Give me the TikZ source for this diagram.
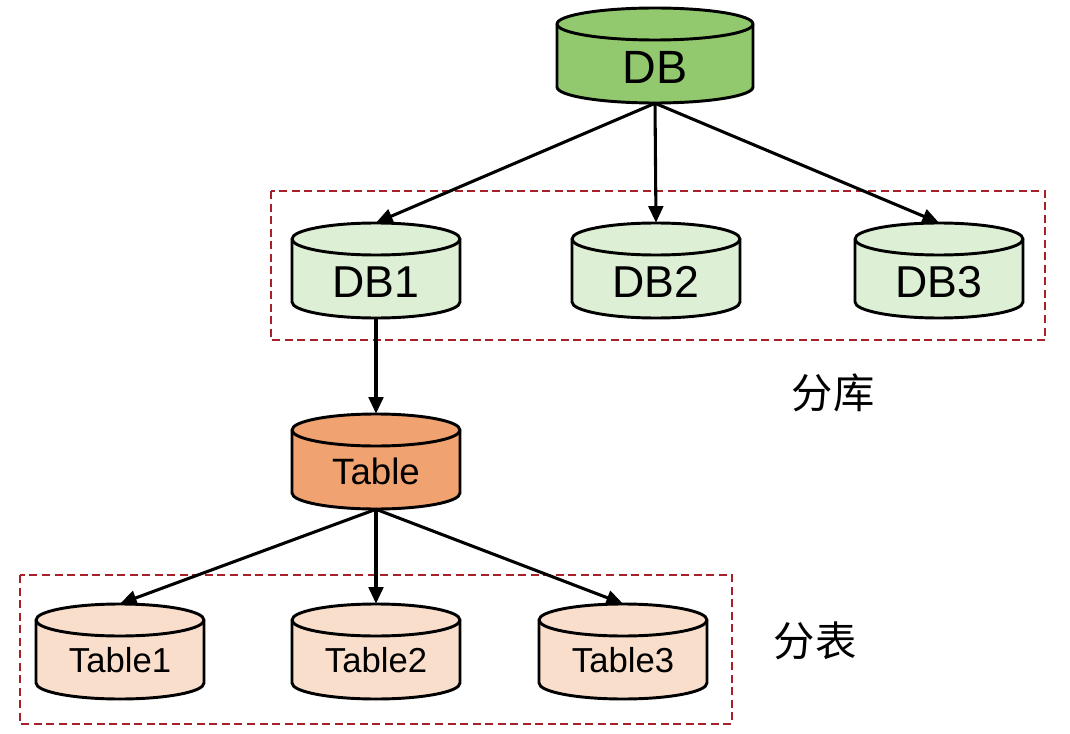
\documentclass[tikz,border=0pt]{standalone}
\usepackage{fontspec}
\setmainfont{Liberation Sans}
\newfontfamily\cjk{Noto Sans CJK SC}
\usetikzlibrary{arrows.meta}

\definecolor{dbgreen}{RGB}{146,201,110}
\definecolor{dblight}{RGB}{221,239,212}
\definecolor{taborange}{RGB}{240,162,112}
\definecolor{tablight}{RGB}{249,222,203}
\definecolor{boxred}{RGB}{168,32,42}

\tikzset{
  drum/.style={draw=black, line width=2.2pt},
  cylnode/.style={rectangle, inner sep=0pt, minimum height=71.25pt, text depth=0pt},
  dbmain/.style={cylnode, text height=42.3pt, font=\fontsize{35}{35}\selectfont},
  dbpart/.style={cylnode, text height=39.8pt, font=\fontsize{33.5}{33.5}\selectfont},
  tabmain/.style={cylnode, text height=33.9pt, font=\fontsize{27.5}{27.5}\selectfont},
  tabpart/.style={cylnode, text height=31.4pt, font=\fontsize{26}{26}\selectfont},
  link/.style={-{Triangle[length=12.5pt,width=11pt]}, line width=2.3pt},
  group/.style={draw=boxred, line width=2.2pt, dash pattern=on 6pt off 3.4pt},
  tag/.style={font=\cjk\fontsize{31}{31}\selectfont}
}

\begin{document}
\begin{tikzpicture}[x=0.75pt,y=-0.75pt]
  \useasboundingbox (0,0) rectangle (1070,734);

  % dashed groups
  \draw[group] (271,191) rectangle (1045,340);
  \draw[group] (20,575) rectangle (732,724);

  % cylinders: name/x/y/half width/fill/style/text
  \foreach \n/\x/\y/\r/\col/\sty/\txt in {
      db/655/55.5/98/dbgreen/dbmain/DB,
      db1/376/270.5/84/dblight/dbpart/DB1,
      db2/656/270.5/84/dblight/dbpart/DB2,
      db3/939/270.5/84/dblight/dbpart/DB3,
      tab/376/461.5/84/taborange/tabmain/Table,
      tab1/120/651.5/84/tablight/tabpart/Table1,
      tab2/376/651.5/84/tablight/tabpart/Table2,
      tab3/623/651.5/84/tablight/tabpart/Table3}{
    \draw[drum, fill=\col] (\x-\r,\y-31.5) -- (\x-\r,\y+31.5)
      arc[start angle=180, end angle=360, x radius=0.75pt*\r, y radius=12pt]
      -- (\x+\r,\y-31.5)
      arc[start angle=0, end angle=180, x radius=0.75pt*\r, y radius=12pt] -- cycle;
    \draw[drum] (\x-\r,\y-31.5)
      arc[start angle=180, end angle=360, x radius=0.75pt*\r, y radius=12pt];
    \node[\sty, minimum width=1.5pt*\r] (\n) at (\x,\y) {\txt};
  }

  \draw[link] (db.south) -- (db1.north);
  \draw[link] (db.south) -- (db2.north);
  \draw[link] (db.south) -- (db3.north);
  \draw[link] (db1.south) -- (tab.north);
  \draw[link] (tab.south) -- (tab1.north);
  \draw[link] (tab.south) -- (tab2.north);
  \draw[link] (tab.south) -- (tab3.north);

  \node[tag] (splitdb) at (833,393) {分库};
  \node[tag] (splittab) at (815,641) {分表};
\end{tikzpicture}
\end{document}
